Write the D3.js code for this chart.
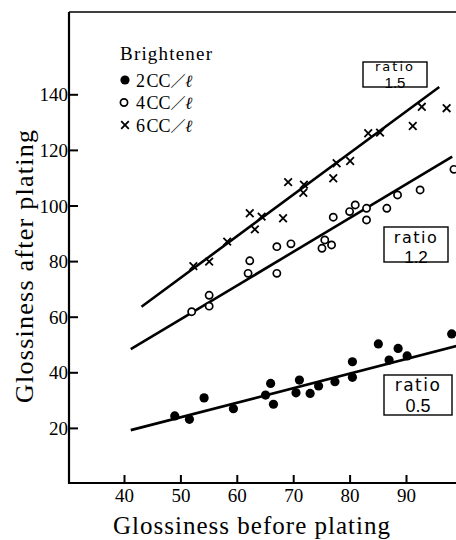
<!DOCTYPE html>
<html>
<head>
<meta charset="utf-8">
<script src="https://cdn.jsdelivr.net/npm/d3@7"></script>
<style>
  body { margin: 0; background: #fff; }
  svg { display: block; }
</style>
</head>
<body>
<div class="canvas"></div>
<script>
// data: [glossiness before, glossiness after]
const bright2 = [
  [49.0, 24.3], [51.6, 23.1], [54.2, 30.8], [59.4, 26.9], [65.1, 31.8],
  [66.0, 36.0], [66.5, 28.5], [70.5, 32.6], [71.1, 37.2], [73.0, 32.4],
  [74.5, 35.1], [77.4, 36.6], [80.5, 38.2], [80.5, 43.8], [85.1, 50.2],
  [87.0, 44.4], [88.6, 48.6], [90.2, 45.9], [98.1, 53.8]
];
const bright4 = [
  [52.0, 61.8], [55.1, 63.8], [55.1, 67.7], [62.0, 75.6], [62.3, 80.1],
  [67.1, 75.6], [67.1, 85.2], [69.6, 86.2], [75.1, 84.6], [75.6, 87.6],
  [76.8, 85.8], [77.1, 95.8], [80.0, 97.8], [81.0, 100.2], [83.0, 94.8],
  [83.0, 99.0], [86.6, 99.0], [88.5, 103.8], [92.5, 105.6], [98.5, 113.0]
];
const bright6 = [
  [52.3, 78.2], [55.1, 79.8], [58.3, 87.0], [62.3, 97.2], [63.2, 91.4],
  [64.4, 96.0], [68.2, 95.4], [69.1, 108.4], [71.8, 104.6], [71.9, 107.5],
  [77.1, 109.8], [77.7, 115.2], [80.1, 116.0], [83.3, 126.0], [85.4, 126.2],
  [91.2, 128.6], [92.8, 135.5], [97.2, 135.0]
];

// fitted lines: [x0, y0, x1, y1]
const fitLines = [
  [41.2, 19.2, 100, 50.0],
  [41.2, 48.3, 98.2, 117.6],
  [43.1, 63.6, 95.9, 142.6]
];

const xTicks = [40, 50, 60, 70, 80, 90];
const yTicks = [20, 40, 60, 80, 100, 120, 140];
const legendLabels = ['2CC', '4CC', '6CC'];
const ratioLabels = ['1.5', '1.2', '0.5'];

const width = 456;
const height = 540;

const svg = d3.select('.canvas')
  .append('svg')
  .attr('width', width)
  .attr('height', height);

const serif = "'Liberation Serif', 'DejaVu Serif', serif";

// scales
const x = d3.scaleLinear()
  .domain([40, 90])
  .range([124, 406]);
const y = d3.scaleLinear()
  .domain([0, 140])
  .range([483.5, 94.3]);

const frameLeft = 69, frameTop = 12, frameBottom = 483;

// frame: top border line
svg.append('line')
  .attr('x1', frameLeft).attr('x2', width + 10)
  .attr('y1', frameTop).attr('y2', frameTop)
  .attr('stroke', '#000')
  .attr('stroke-width', 1.6);

// axes
const xAxis = d3.axisBottom(x)
  .tickValues(xTicks)
  .tickSizeInner(-8)
  .tickSizeOuter(0)
  .tickPadding(5.5);

const yAxis = d3.axisLeft(y)
  .tickValues(yTicks)
  .tickSizeInner(-9)
  .tickSizeOuter(0)
  .tickPadding(1);

const xAxisGroup = svg.append('g')
  .attr('transform', `translate(0, ${frameBottom})`)
  .call(xAxis);
xAxisGroup.select('.domain')
  .attr('d', `M${frameLeft},0H${width + 10}`);

const yAxisGroup = svg.append('g')
  .attr('transform', `translate(${frameLeft}, 0)`)
  .call(yAxis);
yAxisGroup.select('.domain')
  .attr('d', `M0,${frameTop}V${frameBottom + 1}`);

[xAxisGroup, yAxisGroup].forEach(g => {
  g.select('.domain').attr('stroke-width', 2.2);
  g.selectAll('.tick line').attr('stroke-width', 2);
  g.selectAll('.tick text')
    .attr('font-family', serif)
    .attr('font-size', 19)
    .attr('fill', '#000');
});
yAxisGroup.selectAll('.tick text').attr('dy', '0.35em');

// axis titles
svg.append('text')
  .attr('x', 251.5)
  .attr('y', 534)
  .attr('text-anchor', 'middle')
  .attr('font-family', serif)
  .attr('font-size', 25)
  .attr('textLength', 277)
  .text('Glossiness before plating');

svg.append('text')
  .attr('transform', 'translate(33, 266.5) rotate(-90)')
  .attr('text-anchor', 'middle')
  .attr('font-family', serif)
  .attr('font-size', 26)
  .attr('textLength', 273)
  .text('Glossiness after plating');

// fitted lines
svg.append('g')
  .selectAll('line')
  .data(fitLines)
  .enter()
  .append('line')
  .attr('x1', d => x(d[0]))
  .attr('y1', d => y(d[1]))
  .attr('x2', d => x(d[2]))
  .attr('y2', d => y(d[3]))
  .attr('stroke', '#000')
  .attr('stroke-width', 2.6);

// markers
const crossPath = 'M-3.8,-3.8L3.8,3.8M-3.8,3.8L3.8,-3.8';

svg.append('g')
  .selectAll('circle')
  .data(bright2)
  .enter()
  .append('circle')
  .attr('cx', d => x(d[0]))
  .attr('cy', d => y(d[1]))
  .attr('r', 4.6)
  .attr('fill', '#000');

svg.append('g')
  .selectAll('circle')
  .data(bright4)
  .enter()
  .append('circle')
  .attr('cx', d => x(d[0]))
  .attr('cy', d => y(d[1]))
  .attr('r', 3.6)
  .attr('fill', '#fff')
  .attr('stroke', '#000')
  .attr('stroke-width', 1.7);

svg.append('g')
  .selectAll('path')
  .data(bright6)
  .enter()
  .append('path')
  .attr('transform', d => `translate(${x(d[0])}, ${y(d[1])})`)
  .attr('d', crossPath)
  .attr('stroke', '#000')
  .attr('stroke-width', 1.8);

// legend
const legend = svg.append('g');
legend.append('text')
  .attr('x', 120)
  .attr('y', 59.5)
  .attr('font-family', serif)
  .attr('font-size', 19)
  .attr('textLength', 92)
  .attr('fill', '#000')
  .text('Brightener');

const legendRows = legend.selectAll('g.row')
  .data(legendLabels)
  .enter()
  .append('g')
  .attr('class', 'row')
  .attr('transform', (d, i) => `translate(0, ${80 + i * 22.5})`);

legendRows.each(function (d, i) {
  const row = d3.select(this);
  if (i === 0) {
    row.append('circle').attr('cx', 125).attr('cy', 0).attr('r', 4.6).attr('fill', '#000');
  } else if (i === 1) {
    row.append('circle').attr('cx', 124).attr('cy', 0).attr('r', 3.6)
      .attr('fill', '#fff').attr('stroke', '#000').attr('stroke-width', 1.7);
  } else {
    row.append('path').attr('transform', 'translate(125, 0)')
      .attr('d', crossPath).attr('stroke', '#000').attr('stroke-width', 1.8);
  }
  const t = row.append('text')
    .attr('x', 136)
    .attr('y', 6.5)
    .attr('font-family', serif)
    .attr('font-size', 18)
    .attr('fill', '#000');
  t.append('tspan').text(d.charAt(0) + '\u200a' + d.slice(1));
  t.append('tspan').attr('font-family', "'Noto Sans CJK JP', sans-serif")
    .attr('font-size', 15).attr('fill', '#000').text('／');
  t.append('tspan').attr('font-family', "'DejaVu Serif', serif").attr('font-style', 'italic')
    .attr('font-weight', 'bold').attr('font-size', 17).attr('fill', '#000').text('ℓ');
});

// ratio boxes
const boxes = [
  { x0: 363, y0: 62, w: 64, h: 25, ty1: 71, ty2: 88, fs1: 13, fs2: 15 },
  { x0: 384, y0: 227, w: 64, h: 35, ty1: 243, ty2: 262.5, fs1: 16, fs2: 17 },
  { x0: 384, y0: 375, w: 68, h: 40, ty1: 391, ty2: 411.5, fs1: 17, fs2: 18 }
];

const boxGroups = svg.append('g')
  .selectAll('g')
  .data(ratioLabels)
  .enter()
  .append('g');

boxGroups.append('rect')
  .attr('x', (d, i) => boxes[i].x0)
  .attr('y', (d, i) => boxes[i].y0)
  .attr('width', (d, i) => boxes[i].w)
  .attr('height', (d, i) => boxes[i].h)
  .attr('fill', '#fff')
  .attr('stroke', '#000')
  .attr('stroke-width', 1.4);

boxGroups.append('text')
  .attr('x', (d, i) => boxes[i].x0 + boxes[i].w / 2)
  .attr('y', (d, i) => boxes[i].ty1)
  .attr('text-anchor', 'middle')
  .attr('font-family', "'DejaVu Sans', sans-serif")
  .attr('font-size', (d, i) => boxes[i].fs1)
  .attr('letter-spacing', (d, i) => i === 0 ? 2 : 1.5)
  .attr('fill', '#000')
  .text('ratio');

boxGroups.append('text')
  .attr('x', (d, i) => boxes[i].x0 + boxes[i].w / 2)
  .attr('y', (d, i) => boxes[i].ty2)
  .attr('text-anchor', 'middle')
  .attr('font-family', "'Liberation Sans', sans-serif")
  .attr('font-size', (d, i) => boxes[i].fs2)
  .attr('fill', '#000')
  .text(d => d);
</script>
</body>
</html>
